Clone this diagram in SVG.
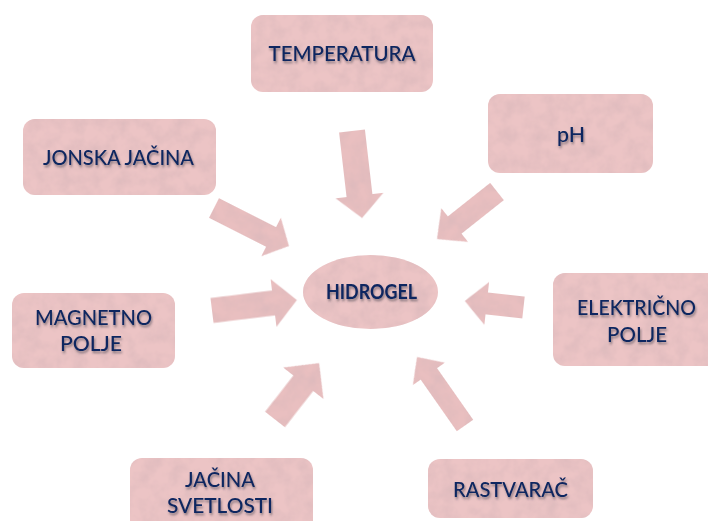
<svg xmlns="http://www.w3.org/2000/svg" width="708" height="521" viewBox="0 0 708 521">
  <defs>
    <filter id="tex" x="-5%" y="-5%" width="110%" height="110%">
      <feTurbulence type="fractalNoise" baseFrequency="0.07" numOctaves="3" seed="7" result="noise"/>
      <feColorMatrix in="noise" type="matrix" values="0 0 0 0 0.70  0 0 0 0 0.48  0 0 0 0 0.50  0 0 0 -1.3 0.85" result="spots"/>
      <feComposite in="spots" in2="SourceGraphic" operator="in" result="clipped"/>
      <feMerge>
        <feMergeNode in="SourceGraphic"/>
        <feMergeNode in="clipped"/>
      </feMerge>
    </filter>
    <filter id="shadow" x="-10%" y="-30%" width="120%" height="170%">
      <feDropShadow dx="1" dy="2.2" stdDeviation="1.3" flood-color="#3a3a4a" flood-opacity="0.55"/>
    </filter>
  </defs>
  <style>
    .box { fill: #ecc4c5; filter: url(#tex); }
    .arrow { fill: #e9bfc0; filter: url(#tex); }
    .lbl { font-family: Lato, "Open Sans", "Liberation Sans", sans-serif; font-size: 21.5px; font-weight: 500; fill: #0f2760; text-anchor: middle; filter: url(#shadow); }
    .center { font-size: 20px; font-weight: bold; }
  </style>
  <rect width="708" height="521" fill="#ffffff"/>

  <g id="connectors">
    <!-- TEMPERATURA -->
    <path class="arrow" transform="translate(352,131) rotate(83.4)" d="M0,-13 L65,-13 L65,-24 L87.6,0 L65,24 L65,13 L0,13 Z"/>
    <!-- JONSKA JACINA -->
    <path class="arrow" transform="translate(214,208) rotate(26.9)" d="M0,-11 L64,-11 L64,-21.5 L84,0 L64,21.5 L64,11 L0,11 Z"/>
    <!-- MAGNETNO POLJE -->
    <path class="arrow" transform="translate(212,310.5) rotate(-7)" d="M0,-12.5 L62,-12.5 L62,-24 L85.5,0 L62,24 L62,12.5 L0,12.5 Z"/>
    <!-- pH -->
    <path class="arrow" transform="translate(497,191.5) rotate(141.6)" d="M0,-11 L54,-11 L54,-21.5 L76.5,0 L54,21.5 L54,11 L0,11 Z"/>
    <!-- ELEKTRICNO POLJE -->
    <path class="arrow" transform="translate(523.5,307.5) rotate(186.3)" d="M0,-11 L37,-11 L37,-21.5 L59,0 L37,21.5 L37,11 L0,11 Z"/>
    <!-- JACINA SVETLOSTI -->
    <path class="arrow" transform="translate(275,419.5) rotate(-52)" d="M0,-12.5 L46,-12.5 L46,-25.5 L71.6,0 L46,25.5 L46,12.5 L0,12.5 Z"/>
    <!-- RASTVARAC -->
    <path class="arrow" transform="translate(465,425.5) rotate(-125)" d="M0,-10 L63,-10 L63,-19.5 L83.6,0 L63,19.5 L63,10 L0,10 Z"/>
  </g>

  <g id="hidrogel">
    <ellipse class="box" cx="370.5" cy="292" rx="67.5" ry="37"/>
    <text class="lbl center" x="371.5" y="299" textLength="91" lengthAdjust="spacingAndGlyphs">HIDROGEL</text>
  </g>

  <g id="temperatura">
    <rect class="box" x="251" y="15" width="182" height="77" rx="12"/>
    <text class="lbl" x="342" y="60.5" textLength="147" lengthAdjust="spacingAndGlyphs">TEMPERATURA</text>
  </g>

  <g id="jonska-jacina">
    <rect class="box" x="23" y="119" width="193" height="76" rx="12"/>
    <text class="lbl" x="118.5" y="164.5" textLength="151" lengthAdjust="spacingAndGlyphs">JONSKA JAČINA</text>
  </g>

  <g id="ph">
    <rect class="box" x="488" y="94" width="165" height="79" rx="12"/>
    <text class="lbl" x="571" y="142" textLength="28" lengthAdjust="spacingAndGlyphs">pH</text>
  </g>

  <g id="magnetno-polje">
    <rect class="box" x="12" y="293" width="163" height="75" rx="12"/>
    <text class="lbl" x="93.5" y="325" textLength="117" lengthAdjust="spacingAndGlyphs">MAGNETNO</text>
    <text class="lbl" x="91" y="351" textLength="62" lengthAdjust="spacingAndGlyphs">POLJE</text>
  </g>

  <g id="elektricno-polje">
    <rect class="box" x="553" y="273" width="170" height="93" rx="12"/>
    <text class="lbl" x="636.5" y="315" textLength="119" lengthAdjust="spacingAndGlyphs">ELEKTRIČNO</text>
    <text class="lbl" x="637" y="342" textLength="60" lengthAdjust="spacingAndGlyphs">POLJE</text>
  </g>

  <g id="jacina-svetlosti">
    <rect class="box" x="130" y="458" width="183" height="80" rx="12"/>
    <text class="lbl" x="220" y="487" textLength="70" lengthAdjust="spacingAndGlyphs">JAČINA</text>
    <text class="lbl" x="220" y="513" textLength="106" lengthAdjust="spacingAndGlyphs">SVETLOSTI</text>
  </g>

  <g id="rastvarac">
    <rect class="box" x="428" y="459" width="165" height="59" rx="12"/>
    <text class="lbl" x="510.5" y="497" textLength="115" lengthAdjust="spacingAndGlyphs">RASTVARAČ</text>
  </g>
</svg>
